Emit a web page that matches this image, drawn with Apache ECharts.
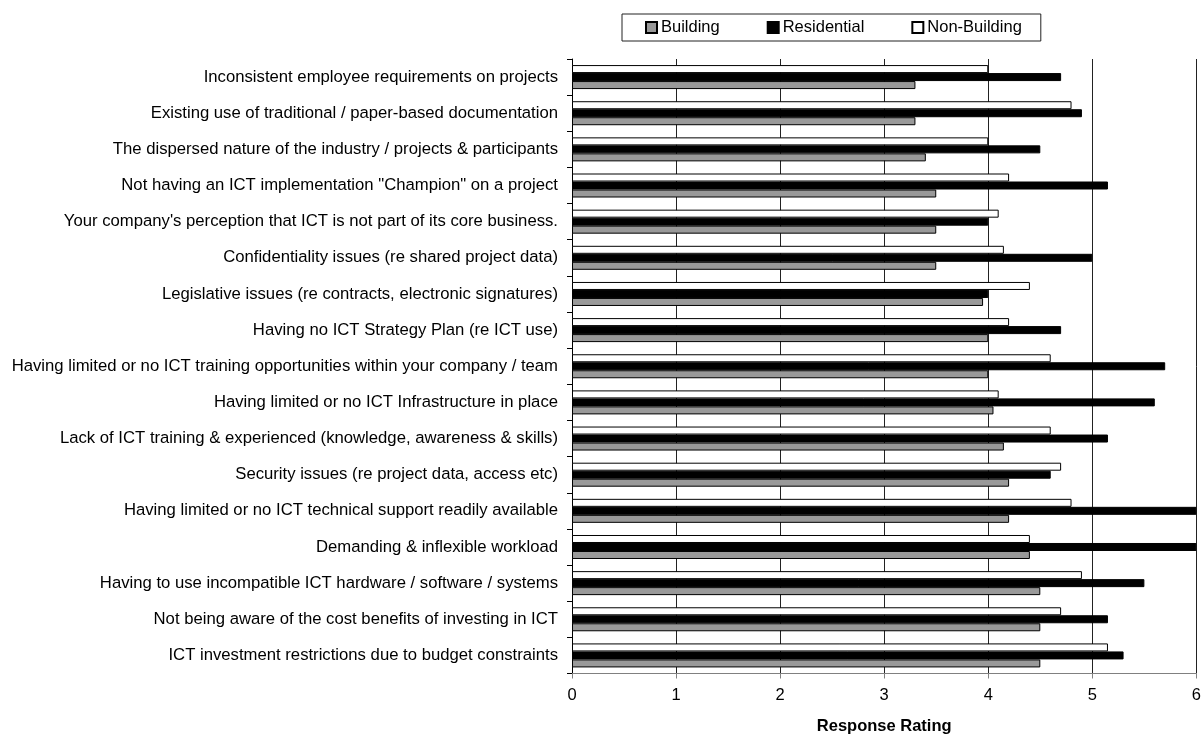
<!DOCTYPE html>
<html>
<head>
<meta charset="utf-8">
<title>ICT barriers – response rating</title>
<script src="https://cdn.jsdelivr.net/npm/echarts@6/dist/echarts.min.js"></script>
<style>
  html, body { margin: 0; padding: 0; background: #fff; }
  #chart { width: 1204px; height: 740px; }
</style>
</head>
<body>
<div id="chart"></div>
<script>
// Barriers, listed from the top row of the chart to the bottom row
const categories = [
  'Inconsistent employee requirements on projects',
  'Existing use of traditional / paper-based documentation',
  'The dispersed nature of the industry / projects & participants',
  'Not having an ICT implementation "Champion" on a project',
  "Your company's perception that ICT is not part of its core business.",
  'Confidentiality issues (re shared project data)',
  'Legislative issues (re contracts, electronic signatures)',
  'Having no ICT Strategy Plan (re ICT use)',
  'Having limited or no ICT training opportunities within your company / team',
  'Having limited or no ICT Infrastructure in place',
  'Lack of ICT training & experienced (knowledge, awareness & skills)',
  'Security issues (re project data, access etc)',
  'Having limited or no ICT technical support readily available',
  'Demanding & inflexible workload',
  'Having to use incompatible ICT hardware / software / systems',
  'Not being aware of the cost benefits of investing in ICT',
  'ICT investment restrictions due to budget constraints'
];

// Mean response rating per sector, same row order as above
const building    = [3.3, 3.3, 3.4, 3.5, 3.5, 3.5, 3.95, 4.0, 4.0, 4.05, 4.15, 4.2, 4.2, 4.4, 4.5, 4.5, 4.5];
const residential = [4.7, 4.9, 4.5, 5.15, 4.0, 5.0, 4.0, 4.7, 5.7, 5.6, 5.15, 4.6, 6.0, 6.0, 5.5, 5.15, 5.3];
const nonBuilding = [4.0, 4.8, 4.0, 4.2, 4.1, 4.15, 4.4, 4.2, 4.6, 4.1, 4.6, 4.7, 4.8, 4.4, 4.9, 4.7, 5.15];

const xTicks = { min: 0, max: 6, interval: 1 };

// The category axis runs bottom-up, so rows are fed in reverse order
const rev = a => a.slice().reverse();

const font = '"Liberation Sans", Arial, sans-serif';
const fs = 16.5;

const barSeries = (name, data, fill) => ({
  name: name,
  type: 'bar',
  data: rev(data),
  barWidth: 8,
  barGap: '0%',
  itemStyle: { color: fill, borderColor: '#000', borderWidth: 1 },
  emphasis: { disabled: true },
  animation: false
});

const chart = echarts.init(document.getElementById('chart'), null, { renderer: 'canvas' });

chart.setOption({
  backgroundColor: '#fff',
  textStyle: { fontFamily: font, color: '#000' },
  legend: {
    data: ['Building', 'Residential', 'Non-Building'],
    icon: 'rect',
    left: 622,
    top: 14,
    padding: [5, 19, 5, 23],
    itemGap: 47,
    itemWidth: 11,
    itemHeight: 11,
    borderColor: '#222',
    borderWidth: 1,
    borderRadius: 0,
    textStyle: { fontFamily: font, fontSize: fs, color: '#000', padding: [0, 0, 0, -1] }
  },
  grid: { left: 572, right: 7, top: 59, bottom: 61, containLabel: false },
  xAxis: {
    type: 'value',
    min: xTicks.min,
    max: xTicks.max,
    interval: xTicks.interval,
    name: 'Response Rating',
    nameLocation: 'middle',
    nameGap: 53,
    nameTextStyle: { fontFamily: font, fontSize: fs, fontWeight: 'bold', color: '#000', verticalAlign: 'middle' },
    axisLine: { show: true, lineStyle: { color: '#808080', width: 1 } },
    axisTick: { show: true, length: 5, lineStyle: { color: '#808080' } },
    axisLabel: { fontFamily: font, fontSize: fs, color: '#000', margin: 13 },
    splitLine: { show: true, lineStyle: { color: '#222', width: 1 } }
  },
  yAxis: {
    type: 'category',
    data: rev(categories),
    axisLine: { show: true, lineStyle: { color: '#000', width: 1 } },
    axisTick: { show: true, length: 5, lineStyle: { color: '#000' } },
    axisLabel: { fontFamily: font, fontSize: 16.7, color: '#000', margin: 14 },
    splitLine: { show: false }
  },
  // Within each row the white bar sits on top and the grey bar at the bottom
  series: [
    barSeries('Non-Building', nonBuilding, '#ffffff'),
    barSeries('Residential', residential, '#000000'),
    barSeries('Building', building, '#999999')
  ]
});
</script>
</body>
</html>
